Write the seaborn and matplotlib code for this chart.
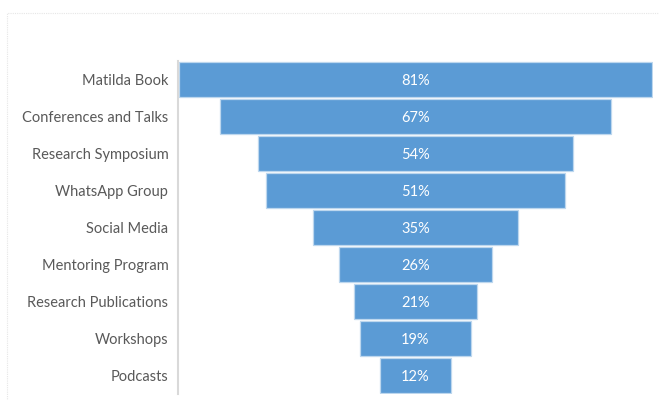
import matplotlib
matplotlib.use("Agg")
import matplotlib.pyplot as plt
import seaborn as sns
import pandas as pd
from matplotlib.patches import Rectangle

categories = ["Matilda Book", "Conferences and Talks", "Research Symposium",
              "WhatsApp Group", "Social Media", "Mentoring Program",
              "Research Publications", "Workshops", "Podcasts"]
values = [81, 67, 54, 51, 35, 26, 21, 19, 12]
value_labels = ["81%", "67%", "54%", "51%", "35%", "26%", "21%", "19%", "12%"]

sns.set_theme(style="white")
plt.rcParams['font.family'] = ['Lato', 'DejaVu Sans']

df = pd.DataFrame({"cat": categories, "val": values})

fig = plt.figure(figsize=(6.59, 4.0), dpi=100)
fig.patch.set_facecolor("white")
# faint outer chart border
fig.add_artist(Rectangle((7/659, -0.1), 1.2, (400-13)/400 + 0.1, transform=fig.transFigure,
                         fill=False, edgecolor="#E6E6E6", linewidth=0.8, linestyle=(0, (1, 1))))

ax = fig.add_axes([178/659, 1-394/400, (653-178)/659, (394-61)/400])
sns.barplot(data=df, x="val", y="cat", orient="h", color="#5B9BD5", saturation=1,
            width=0.92, edgecolor="#BDD7EE", linewidth=0.9, ax=ax)

for p, lab in zip(ax.patches, value_labels):
    w = p.get_width()
    p.set_x(-w / 2)
    ax.text(0, p.get_y() + p.get_height() / 2 + 0.04, lab, ha="center", va="center",
            color="white", fontsize=10.5)

ax.set_xlim(-40.6, 40.6)
ax.set_xlabel("")
ax.set_ylabel("")
ax.set_xticks([])
for s in ["top", "right", "bottom"]:
    ax.spines[s].set_visible(False)
ax.spines["left"].set_color("#D9D9D9")
ax.spines["left"].set_linewidth(1.5)
ax.tick_params(axis="y", length=0, pad=7, labelsize=10.5, labelcolor="#595959")
ax.set_facecolor("none")

fig.savefig("out.png", dpi=100)
